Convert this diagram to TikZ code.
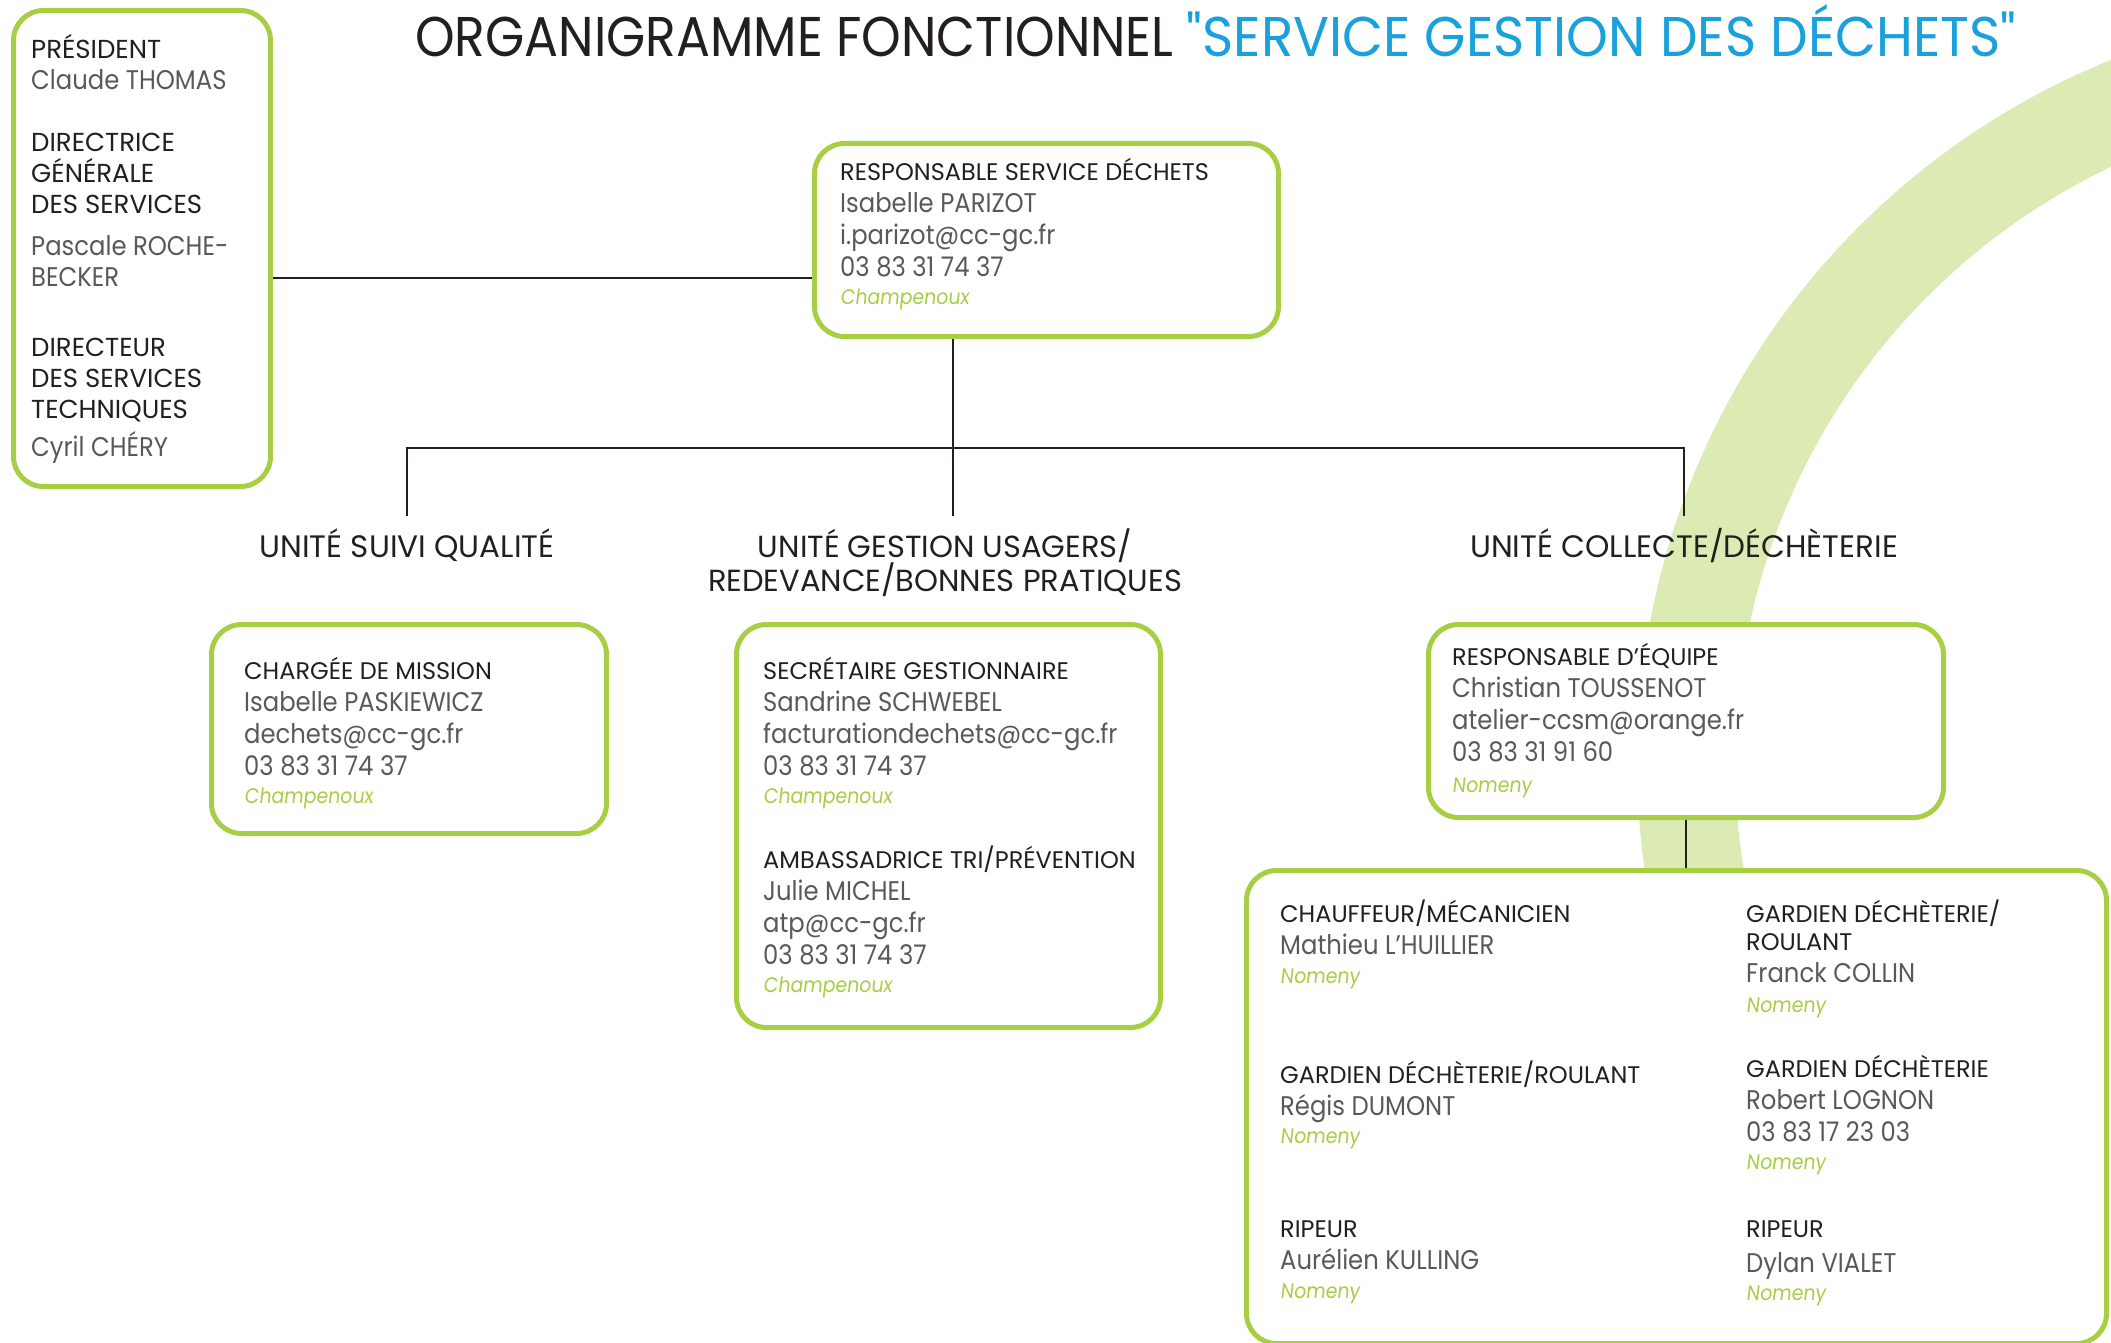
\documentclass[tikz,border=0pt]{standalone}
\usepackage{fontspec}
\setmainfont{Poppins}
\newfontfamily\titrefont[FakeStretch=0.9]{Poppins}
\newfontfamily\titrebleufont[FakeStretch=0.95]{Poppins}
\newfontfamily\grisfont[FakeStretch=0.9]{Poppins}
\newfontfamily\lieufont[FakeStretch=0.9,FakeSlant=0.12]{Poppins}
\usetikzlibrary{positioning,calc}
\definecolor{vert}{RGB}{168,206,67}
\definecolor{vertclair}{RGB}{220,235,180}
\definecolor{bleu}{RGB}{26,160,219}
\definecolor{gris}{RGB}{88,89,91}
\definecolor{noir}{RGB}{35,31,32}
\setlength\lineskiplimit{-100pt}
\newcommand\fct[1]{{\color{noir}\fontsize{24}{32}\selectfont\rule{0pt}{30pt}#1}}
\newcommand\fctg[1]{{\color{noir}\fontsize{26}{31}\selectfont\rule{0pt}{30pt}#1}}
\newcommand\nom[1]{{\color{gris}\grisfont\fontsize{27}{32}\selectfont #1}}
\newcommand\lieu[1]{{\color{vert}\lieufont\fontsize{21}{32}\selectfont #1}}
\tikzset{
  boite/.style={draw=vert, line width=5pt, rounded corners=30pt, fill=white, inner sep=0pt, anchor=north west},
  bloc/.style={align=left, inner sep=0pt, anchor=north west, yshift=30pt, font=\fontsize{24}{32}\selectfont},
  unite/.style={align=center, text=noir, font=\fontsize{31}{34}\selectfont, inner xsep=0pt, inner ysep=12pt, anchor=base},
  lien/.style={draw=noir, line width=2.5pt}
}

\begin{document}
\begin{tikzpicture}[x=1pt,y=-1pt]
	%%%%% START %%%%%
	\useasboundingbox (0,0) rectangle (2111,1343);
	
	\begin{scope}
		\clip (0,0) rectangle (2111,1343);
		\draw[vertclair, line width=98pt] (2394,762) ++(150:708) arc (150:260:708);
	\end{scope}
	
	\node[anchor=base west, inner sep=0pt, font=\fontsize{56}{60}\selectfont] (titre) at (415,57) {\titrefont\color{noir}ORGANIGRAMME FONCTIONNEL \titrebleufont\color{bleu}"SERVICE GESTION DES DÉCHETS"};
	
	\node[boite, minimum width=257pt, minimum height=476pt] (direction) at (11,8) {};
	\node[boite, minimum width=464pt, minimum height=193pt] (responsable) at (812,141) {};
	\node[boite, minimum width=395pt, minimum height=209pt] (mission) at (209,622) {};
	\node[boite, minimum width=424pt, minimum height=403pt] (usagers) at (734,622) {};
	\node[boite, minimum width=515pt, minimum height=193pt] (equipe) at (1426,622) {};
	\node[boite, minimum width=860pt, minimum height=473pt] (terrain) at (1244,868) {};
	
	\node[bloc, font=\fontsize{26}{31}\selectfont] (direction-t) at (31,58) {\fctg{PRÉSIDENT}\\ \nom{Claude THOMAS}\\[31pt] \fctg{DIRECTRICE}\\ \fctg{GÉNÉRALE}\\ \fctg{DES SERVICES}\\[11pt] \nom{Pascale ROCHE-}\\ \nom{BECKER}\\[39pt] \fctg{DIRECTEUR}\\ \fctg{DES SERVICES}\\ \fctg{TECHNIQUES}\\[7pt] \nom{Cyril CHÉRY}};
	
	\node[bloc] (responsable-t) at (840,180) {\fct{RESPONSABLE SERVICE DÉCHETS}\\ \nom{Isabelle PARIZOT}\\ \nom{i.parizot@cc-gc.fr}\\ \nom{03 83 31 74 37}\\[-4pt] \lieu{Champenoux}};
	
	\node[unite] (qualite) at (407,557) {UNITÉ SUIVI QUALITÉ};
	\node[unite, font=\fontsize{30.5}{34}\selectfont] (gestion) at (945,591) {UNITÉ GESTION USAGERS/\\REDEVANCE/BONNES PRATIQUES};
	\node[unite] (collecte) at (1684,557) {UNITÉ COLLECTE/DÉCHÈTERIE};
	
	\node[bloc] (mission-t) at (244,679) {\fct{CHARGÉE DE MISSION}\\ \nom{Isabelle PASKIEWICZ}\\ \nom{dechets@cc-gc.fr}\\ \nom{03 83 31 74 37}\\[-4pt] \lieu{Champenoux}};
	
	\node[bloc] (usagers-t) at (763,679) {\fct{SECRÉTAIRE GESTIONNAIRE}\\ \nom{Sandrine SCHWEBEL}\\ \nom{facturationdechets@cc-gc.fr}\\ \nom{03 83 31 74 37}\\[-4pt] \lieu{Champenoux}\\[33pt] \fct{AMBASSADRICE TRI/PRÉVENTION}\\ \nom{Julie MICHEL}\\ \nom{atp@cc-gc.fr}\\ \nom{03 83 31 74 37}\\[-4pt] \lieu{Champenoux}};
	
	\node[bloc] (equipe-t) at (1452,665) {\fct{RESPONSABLE D’ÉQUIPE}\\ \nom{Christian TOUSSENOT}\\ \nom{atelier-ccsm@orange.fr}\\ \nom{03 83 31 91 60}\\[-1pt] \lieu{Nomeny}};
	
	\node[bloc] (chauffeur) at (1280,922) {\fct{CHAUFFEUR/MÉCANICIEN}\\ \nom{Mathieu L’HUILLIER}\\[-3pt] \lieu{Nomeny}};
	\node[bloc] (gardien-a) at (1280,1083) {\fct{GARDIEN DÉCHÈTERIE/ROULANT}\\ \nom{Régis DUMONT}\\[-4pt] \lieu{Nomeny}};
	\node[bloc] (ripeur-a) at (1280,1237) {\fct{RIPEUR}\\ \nom{Aurélien KULLING}\\[-3pt] \lieu{Nomeny}};
	\node[bloc] (gardien-b) at (1746,922) {\fct{GARDIEN DÉCHÈTERIE/}\\[-4pt] \fct{ROULANT}\\ \nom{Franck COLLIN}\\[-2pt] \lieu{Nomeny}};
	\node[bloc] (gardien-c) at (1746,1077) {\fct{GARDIEN DÉCHÈTERIE}\\ \nom{Robert LOGNON}\\ \nom{03 83 17 23 03}\\[-4pt] \lieu{Nomeny}};
	\node[bloc] (ripeur-b) at (1746,1237) {\fct{RIPEUR}\\[3pt] \nom{Dylan VIALET}\\[-4pt] \lieu{Nomeny}};
	
	\coordinate (ligne) at (540,278);
	\coordinate (barre) at (953,448);
	\draw[lien] (direction.east |- ligne) -- (responsable.west |- ligne);
	\draw[lien] (responsable.south -| barre) -- (barre);
	\draw[lien] (qualite.north) -- (qualite.north |- barre) -- (collecte.north |- barre) -- (collecte.north);
	\draw[lien] (barre) -- (barre |- qualite.north);
	\draw[lien] (equipe.south) -- (terrain.north -| equipe.south);
	%%%%% END %%%%%
\end{tikzpicture}
\end{document}
